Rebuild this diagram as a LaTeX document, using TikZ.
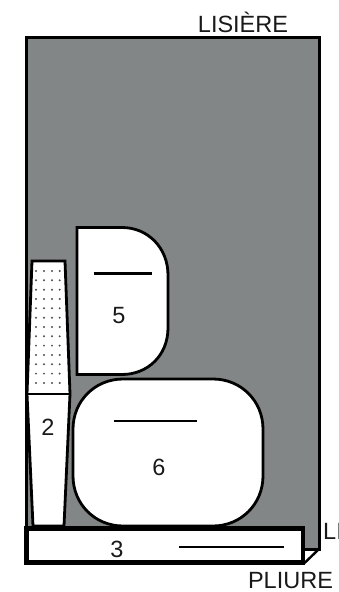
\documentclass[tikz,border=0pt]{standalone}
\usepackage{fontspec}
\setmainfont{Liberation Sans}
\definecolor{tissu}{RGB}{130,134,134}
\tikzset{
  piece/.style={draw=black,fill=white,line width=2.8pt,line join=miter},
  fold/.style={draw=black,line width=2.4pt},
  label/.style={inner sep=0pt,anchor=base,text=black!90},
  droit/.style={draw=black,line width=2.4pt},
}
\begin{document}
\begin{tikzpicture}[x=1pt,y=-1pt,font=\fontsize{23.5}{25}\selectfont]
  \useasboundingbox[fill=white] (0,0) rectangle (339,592);
  % fabric
  \draw[fill=tissu,draw=black,line width=3pt] (26,37) rectangle (319,549);
  \coordinate (coin) at (319,549);
  % piece 2
  \draw[piece] (32,261) -- (65,261) -- (70,394) -- (64,526) -- (33,526) -- (27,394) -- cycle;
  \foreach \row in {0,...,12}
    \foreach \dotx in {36,44,52,59.7}
      \fill[black!70] (\dotx,271+9.33*\row) circle (1.1);
  \draw[line width=2.8pt] (27,394) -- (70,394);
  \node[label] (two) at (48,435) {2};
  % piece 5
  \draw[piece] (77,227.5) -- (122,227.5) .. controls (148,227.5) and (168,248) .. (168,275)
    -- (168,328) .. controls (168,355) and (148,374.5) .. (122,374.5) -- (77,374.5) -- cycle;
  \node[label] (five) at (119,323) {5};
  \coordinate (a5) at (93.5,273.5);
  \coordinate (b5) at (152,273.5);
  \draw[droit] (a5) -- (b5);
  % piece 6
  \draw[piece] (123,379) -- (213,379) .. controls (241,379) and (263,401) .. (263,429)
    -- (263,476) .. controls (263,504) and (241,526) .. (213,526) -- (123,526)
    .. controls (95,526) and (73,504) .. (73,476) -- (73,429) .. controls (73,401) and (95,379) .. (123,379) -- cycle;
  \node[label] (six) at (159,475) {6};
  \coordinate (a6) at (114,421);
  \coordinate (b6) at (197,421);
  \draw[droit] (a6) -- (b6);
  % piece 3
  \draw[piece,line width=4.4pt] (26.5,528.5) rectangle (303,562.5);
  \coordinate (c3) at (304.5,563);
  \draw[fold] (c3) -- (coin);
  \node[label] (three) at (117,557) {3};
  \coordinate (a3) at (179,547);
  \coordinate (b3) at (284,547);
  \draw[droit] (a3) -- (b3);
  % labels
  \node[label] (lisiere) at (243,32) {LISIÈRE};
  \node[label] (pliure) at (290.5,588) {PLIURE};
  \node[label,anchor=base west] (li) at (323,539) {LI};
\end{tikzpicture}
\end{document}
